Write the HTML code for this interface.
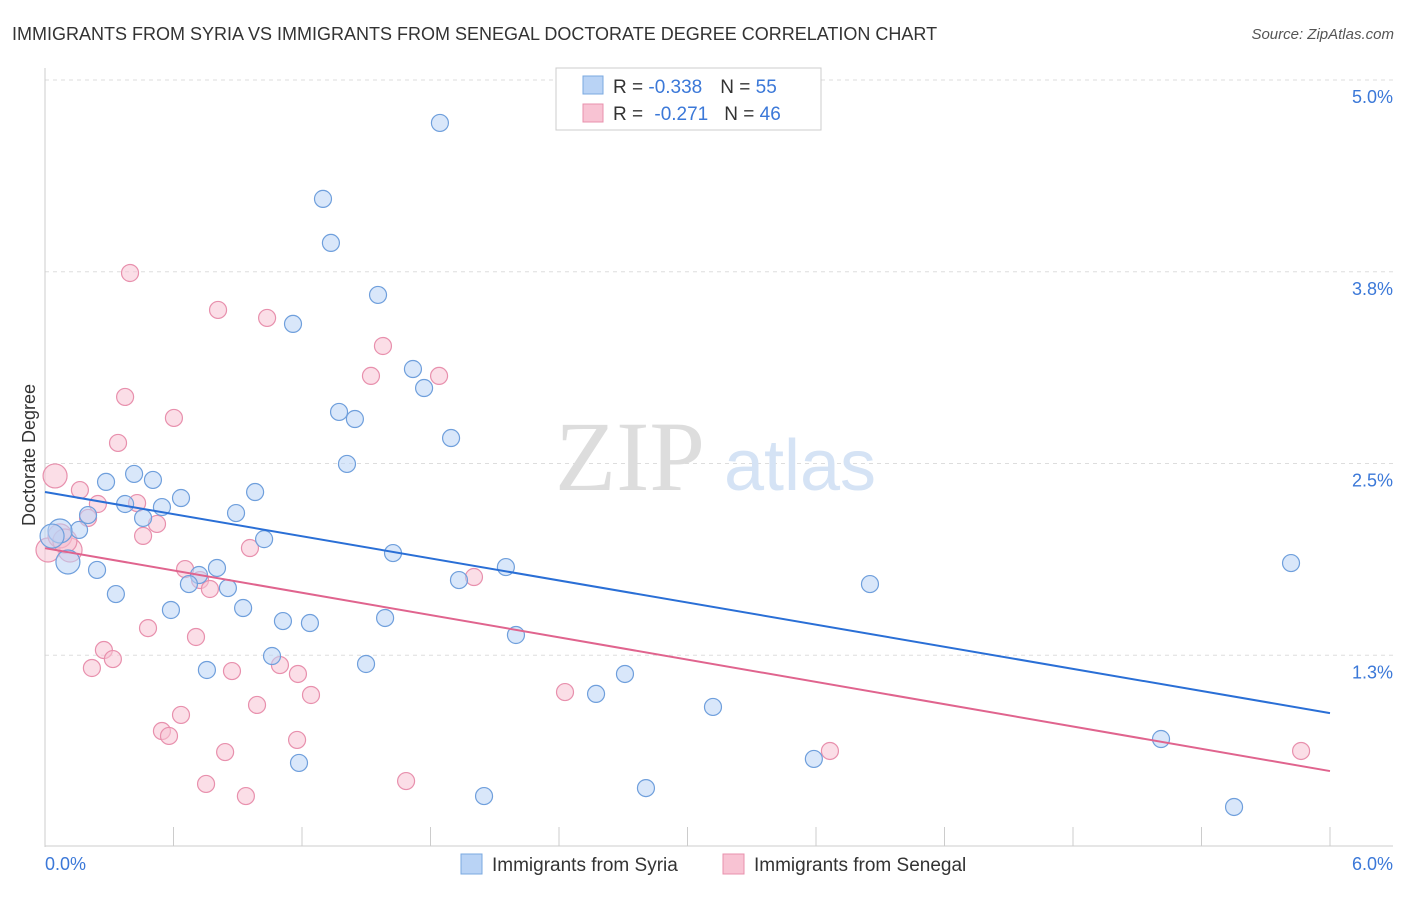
<!DOCTYPE html>
<html><head><meta charset="utf-8"><style>
body{margin:0;background:#fff;font-family:"Liberation Sans",sans-serif;}
svg text{font-family:"Liberation Sans",sans-serif;}
</style></head><body>
<svg width="1406" height="892" xmlns="http://www.w3.org/2000/svg">
<text x="12" y="40" font-size="18" fill="#333">IMMIGRANTS FROM SYRIA VS IMMIGRANTS FROM SENEGAL DOCTORATE DEGREE CORRELATION CHART</text>
<text x="1394" y="39" font-size="15" fill="#555" text-anchor="end" font-style="italic">Source: ZipAtlas.com</text>
<g id="grid"></g>
<text x="630" y="490" font-size="100" fill="#ddd" text-anchor="middle" style="font-family:'Liberation Serif',serif">ZIP</text>
<text x="800" y="490" font-size="72" fill="#d5e3f5" text-anchor="middle">atlas</text>
<g id="marks"></g>
<text x="35" y="455" font-size="18" fill="#333" text-anchor="middle" transform="rotate(-90 35 455)">Doctorate Degree</text>
<text x="45" y="870" font-size="18" fill="#3b78d8">0.0%</text>
<text x="1393" y="870" font-size="18" fill="#3b78d8" text-anchor="end">6.0%</text>
<g>
<rect x="556" y="68" width="265" height="62" fill="#fff" stroke="#ccc"/>
<rect x="583" y="76" width="20" height="18" fill="#b9d3f5" stroke="#7aa8e0"/>
<rect x="583" y="104" width="20" height="18" fill="#f8c3d3" stroke="#e890ad"/>
<text x="613" y="93" font-size="19" fill="#333">R = <tspan fill="#3b78d8">-0.338</tspan><tspan dx="18">N = </tspan><tspan fill="#3b78d8">55</tspan></text>
<text x="613" y="120" font-size="19" fill="#333">R = <tspan fill="#3b78d8" dx="6">-0.271</tspan><tspan dx="16">N = </tspan><tspan fill="#3b78d8">46</tspan></text>
</g>
<g>
<rect x="461" y="854" width="21" height="20" fill="#b9d3f5" stroke="#7aa8e0"/>
<text x="492" y="871" font-size="19" fill="#333">Immigrants from Syria</text>
<rect x="723" y="854" width="21" height="20" fill="#f8c3d3" stroke="#e890ad"/>
<text x="754" y="871" font-size="19" fill="#333">Immigrants from Senegal</text>
</g>
</svg>
<script>
const yTicks=[1.25,2.5,3.75,5.0];
const yTickLabels=["1.3%","2.5%","3.8%","5.0%"];
const syriaX=[1.844,1.298,1.335,1.555,1.158,1.718,1.770,1.373,1.447,1.896,1.410,0.416,0.285,0.504,0.635,0.374,0.546,0.981,0.892,0.201,0.458,0.159,0.070,0.033,1.023,1.625,0.107,0.243,0.803,0.719,0.672,0.854,1.933,2.152,3.852,5.818,0.331,0.588,0.925,1.111,1.237,1.588,2.199,1.060,0.756,1.499,2.708,2.573,3.119,5.211,3.590,1.186,2.050,2.806,5.552];
const syriaY=[4.720,4.225,3.938,3.599,3.410,3.116,2.992,2.836,2.790,2.666,2.497,2.432,2.380,2.393,2.275,2.236,2.216,2.314,2.177,2.164,2.145,2.067,2.060,2.027,2.007,1.916,1.858,1.806,1.819,1.773,1.714,1.688,1.740,1.825,1.714,1.851,1.649,1.545,1.558,1.473,1.460,1.493,1.382,1.245,1.154,1.193,1.128,0.998,0.913,0.704,0.574,0.548,0.332,0.384,0.261];
const senegalX=[0.397,0.808,1.037,1.578,1.522,1.840,0.374,0.602,0.341,0.047,0.163,0.430,0.247,0.523,0.201,0.458,0.957,0.117,0.014,0.654,0.724,0.770,2.003,0.481,0.705,0.275,0.317,0.219,0.873,1.097,1.181,1.242,2.428,0.635,0.990,0.546,0.579,1.177,0.841,3.665,5.865,0.752,1.686,0.938,0.070,0.093];
const senegalY=[3.742,3.501,3.449,3.266,3.071,3.071,2.934,2.797,2.634,2.419,2.327,2.242,2.236,2.106,2.145,2.028,1.949,1.936,1.936,1.812,1.740,1.682,1.760,1.427,1.369,1.284,1.225,1.167,1.147,1.186,1.128,0.991,1.010,0.861,0.926,0.756,0.724,0.698,0.619,0.626,0.626,0.411,0.430,0.332,2.028,1.995];
const syriaTrend=[2.314,0.873];
const senegalTrend=[1.948,0.495];
const X0=45,X1=1330,Y0=847,Y5=80;
const xs=v=>X0+(X1-X0)*v/6;
const ys=v=>Y0-(Y0-Y5)*v/5;
const NS="http://www.w3.org/2000/svg";
const grid=document.getElementById('grid'),marks=document.getElementById('marks');
function mk(tag,attrs,parent){const e=document.createElementNS(NS,tag);for(const k in attrs)e.setAttribute(k,attrs[k]);parent.appendChild(e);return e;}
yTicks.forEach((t,i)=>{
 const l=mk('line',{x1:X0,x2:1393,y1:ys(t),y2:ys(t),stroke:'#ddd','stroke-dasharray':'4,4'},grid);
 
 
 const tx=mk('text',{x:1393,y:ys(t)+23,'font-size':18,fill:'#3b78d8','text-anchor':'end'},grid);
 tx.textContent=yTickLabels[i];
 
 
});
const ax=mk('line',{x1:X0,x2:X0,y1:68,y2:847,stroke:'#ccc'},grid);


const bx=mk('line',{x1:X0,x2:1393,y1:846,y2:846,stroke:'#ccc'},grid);


for(let i=0;i<=10;i++){const t=mk('line',{x1:xs(i*0.6),x2:xs(i*0.6),y1:827,y2:846,stroke:'#ccc'},grid);
 
 }
function pts(X,Y,fill,stroke,name){X.forEach((v,i)=>{
 const r=(v<0.12)?12:8.5;
 const c=mk('circle',{cx:xs(v),cy:ys(Y[i]),r:r,fill:fill,'fill-opacity':0.55,stroke:stroke,'stroke-width':1.2},marks);
 
 
});}
pts(senegalX,senegalY,'#f8c3d3','#e890ad','senegal-point');
pts(syriaX,syriaY,'#b9d3f5','#6f9fdc','syria-point');
const l1=mk('line',{x1:xs(0),y1:ys(syriaTrend[0]),x2:xs(6),y2:ys(syriaTrend[1]),stroke:'#2a6fd6','stroke-width':2},marks);


const l2=mk('line',{x1:xs(0),y1:ys(senegalTrend[0]),x2:xs(6),y2:ys(senegalTrend[1]),stroke:'#e0648e','stroke-width':2},marks);


</script>
</body></html>
